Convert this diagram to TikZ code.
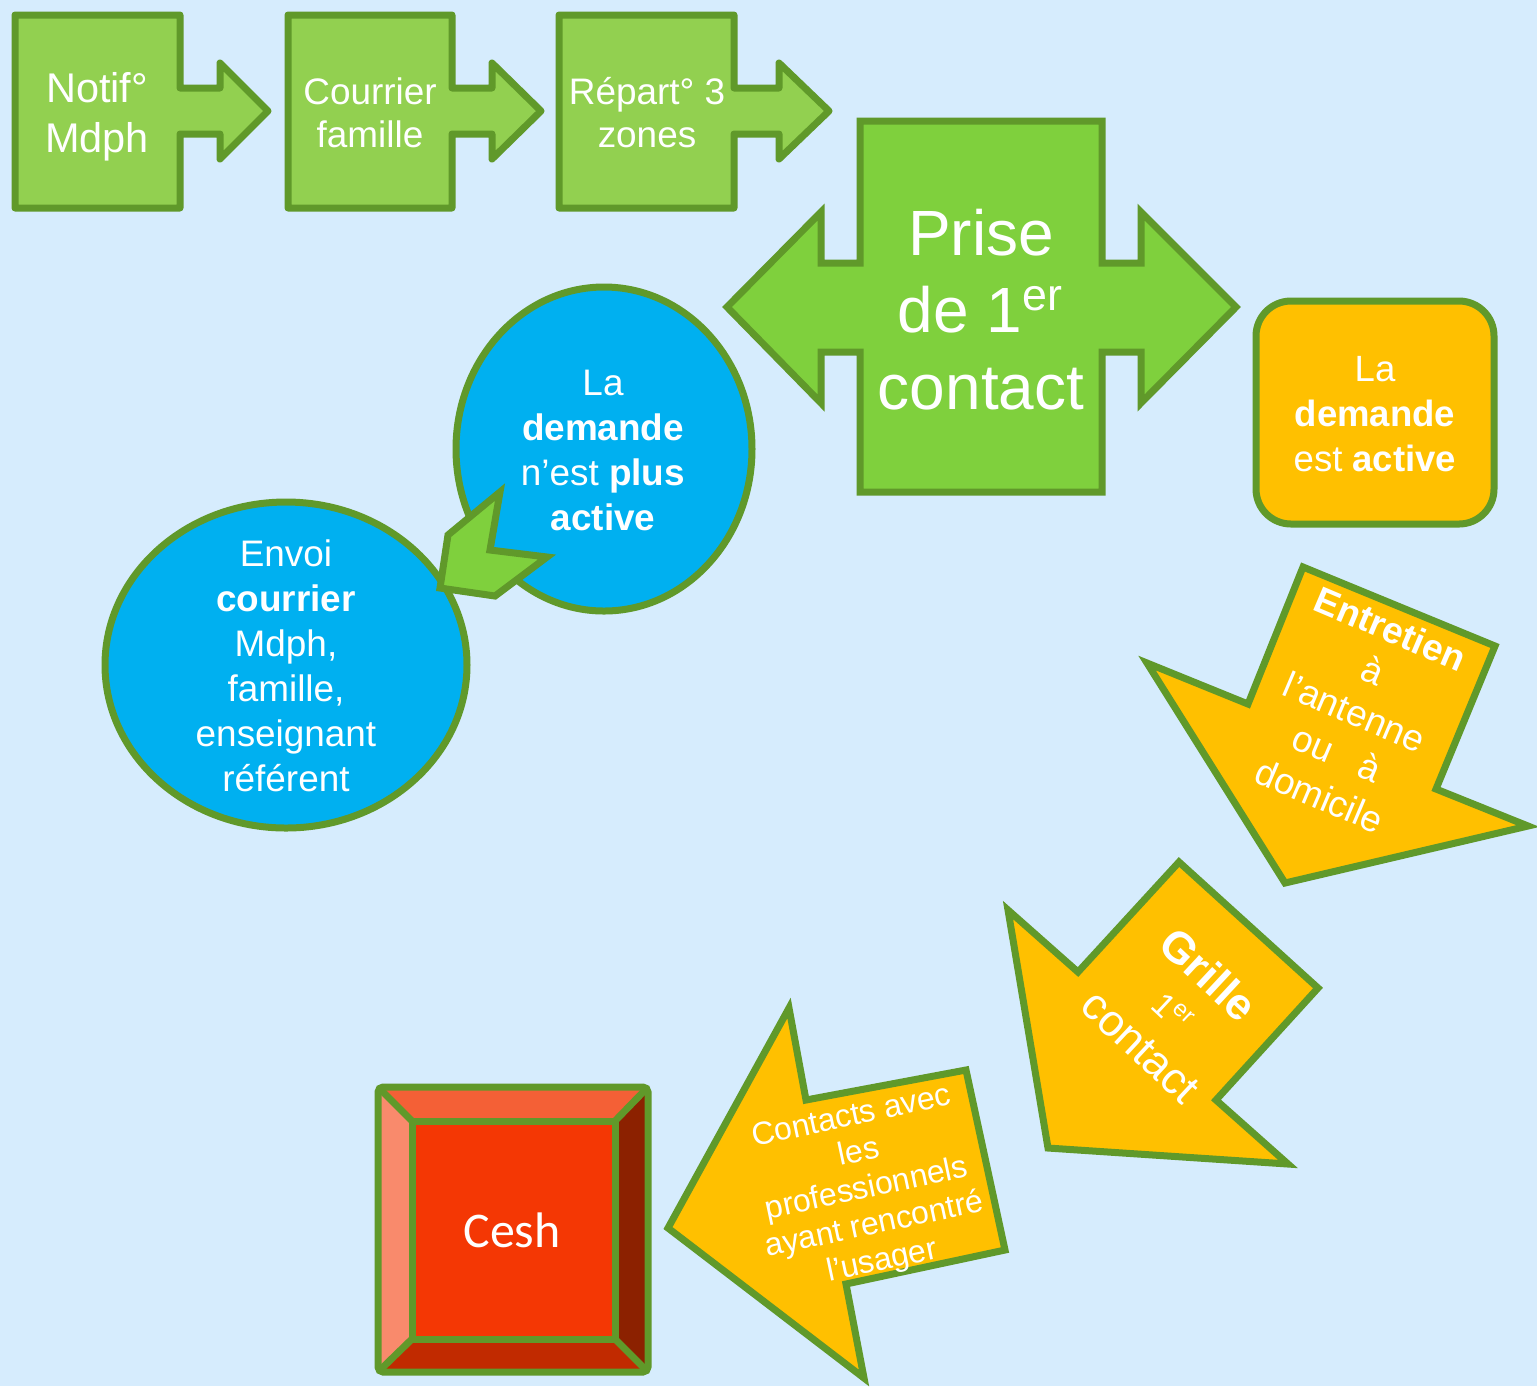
\documentclass[tikz,border=0pt]{standalone}
\usepackage{fontspec}
\setmainfont{Liberation Sans}
\newfontfamily\ceshfont{Carlito}
\definecolor{fond}{RGB}{214,236,253}
\definecolor{trait}{RGB}{96,153,42}
\definecolor{vertclair}{RGB}{146,208,80}
\definecolor{vertvif}{RGB}{127,208,61}
\definecolor{bleu}{RGB}{0,176,240}
\definecolor{jaune}{RGB}{255,192,0}
\definecolor{rouge}{RGB}{244,55,4}
\definecolor{rougehaut}{RGB}{244,96,54}
\definecolor{rougegauche}{RGB}{249,138,108}
\definecolor{rougedroite}{RGB}{140,33,0}
\definecolor{rougebas}{RGB}{193,42,0}

\begin{document}
\begin{tikzpicture}[x=0.1mm, y=-0.1mm,
  forme/.style={draw=trait, line width=0.7mm, line join=miter},
  texte/.style={text=white, align=center, inner sep=0pt}]

% fond
\fill[fond] (0,0) rectangle (1537,1386);

% Notif Mdph
  \draw[forme, fill=vertclair, line join=round] (15,15) -- (180,15) -- (180,88) -- (220,88) -- (220,63) -- (268,111) -- (220,159) -- (220,134) -- (180,134) -- (180,208) -- (15,208) -- cycle;
  \node[texte, font={\fontsize{11.8}{14.2}\selectfont}] (notif) at (97,117) {Notif°\\Mdph};

% Courrier famille
  \draw[forme, fill=vertclair, line join=round] (288,15) -- (452,15) -- (452,88) -- (492,88) -- (492,63) -- (541,111) -- (492,159) -- (492,134) -- (452,134) -- (452,208) -- (288,208) -- cycle;
  \node[texte, font={\fontsize{10.5}{12.2}\selectfont}] (courrier) at (370,113) {Courrier\\famille};

% Repart 3 zones
  \draw[forme, fill=vertclair, line join=round] (559,15) -- (734,15) -- (734,88) -- (779,88) -- (779,63) -- (829,111) -- (779,159) -- (779,134) -- (734,134) -- (734,208) -- (559,208) -- cycle;
  \node[texte, font={\fontsize{10.5}{12.2}\selectfont}] (repart) at (647,113) {Répart° 3\\zones};

% Prise de 1er contact
  \draw[forme, fill=vertvif] (860,121) -- (1102,121) -- (1102,263) -- (1141,263) -- (1141,212) -- (1236,307) -- (1141,403) -- (1141,352) -- (1102,352) -- (1102,492) -- (860,492) -- (860,352) -- (821,352) -- (821,403) -- (727,307) -- (821,212) -- (821,263) -- (860,263) -- cycle;
  \node[texte, font={\fontsize{18.2}{21.9}\selectfont}] (prise) at (981,310) {Prise\\de 1\textsuperscript{er}\\contact};

% demande plus active
  \draw[forme, fill=bleu] (604,449) ellipse [x radius=14.8mm, y radius=16.2mm];
  \node[texte, font={\fontsize{10.5}{12.8}\selectfont}] (inactive) at (603,450) {La\\\textbf{demande}\\n’est \textbf{plus}\\\textbf{active}};

% Envoi courrier
  \draw[forme, fill=bleu] (286,665) ellipse [x radius=18.1mm, y radius=16.3mm];
  \node[texte, font={\fontsize{10.5}{12.8}\selectfont}] (envoi) at (286,666) {Envoi\\\textbf{courrier}\\Mdph,\\famille,\\enseignant\\référent};

  % fleche entre les bulles
  \draw[forme, fill=vertvif] (500,492) -- (490,550) -- (547,557) -- (495,596) -- (440,588) -- (448,535) -- cycle;

% demande active
  \draw[forme, fill=jaune, rounded corners=3.5mm] (1256,301) rectangle (1494,524);
  \node[texte, font={\fontsize{10.4}{12.7}\selectfont}] (active) at (1375,414) {La\\\textbf{demande}\\est \textbf{active}};

% Entretien
  \draw[forme, fill=jaune] (1303,567) -- (1495,646) -- (1436,789) -- (1528,826) -- (1285,883) -- (1147,663) -- (1248,704) -- cycle;
  \node[texte, rotate=-23, font={\fontsize{10.5}{12.9}\selectfont}] (entretien) at (1355,712) {\textbf{Entretien}\\à\\l’antenne\\ou\ \ \ à\\domicile};

% Grille
  \draw[forme, fill=jaune] (1179,862) -- (1318,988) -- (1216,1100) -- (1288,1164) -- (1048,1148) -- (1008,910) -- (1078,972) -- cycle;
  \node[texte, rotate=-43, font={\fontsize{12.6}{14}\selectfont}] (grille) at (1175,1010) {\textbf{Grille}\\{\fontsize{9.5}{12}\selectfont 1\textsuperscript{er}}\\contact};

% Contacts
  \draw[forme, fill=jaune] (789,1008) -- (806,1100) -- (966,1070) -- (1005,1250) -- (846,1284) -- (864,1378) -- (668,1228) -- cycle;
  \node[texte, rotate=12, font={\fontsize{9.1}{10.5}\selectfont}] (contacts) at (867,1190) {Contacts avec\\les\\professionnels\\ayant rencontré\\l’usager};

% Cesh
  \fill[rougehaut] (378,1087) -- (648,1087) -- (615,1121) -- (412,1121) -- cycle;
  \fill[rougedroite] (648,1087) -- (648,1372) -- (615,1339) -- (615,1121) -- cycle;
  \fill[rougebas] (648,1372) -- (378,1372) -- (412,1339) -- (615,1339) -- cycle;
  \fill[rougegauche] (378,1372) -- (378,1087) -- (412,1121) -- (412,1339) -- cycle;
  \draw[forme, fill=rouge] (412,1121) rectangle (615,1339);
  \draw[forme, rounded corners=0.5mm] (378,1087) rectangle (648,1372);
  \draw[forme] (378,1087) -- (412,1121) (648,1087) -- (615,1121) (648,1372) -- (615,1339) (378,1372) -- (412,1339);
  \node[texte, font={\ceshfont\fontsize{14.2}{16}\selectfont}] (cesh) at (512,1230) {Cesh};

\end{tikzpicture}
\end{document}
